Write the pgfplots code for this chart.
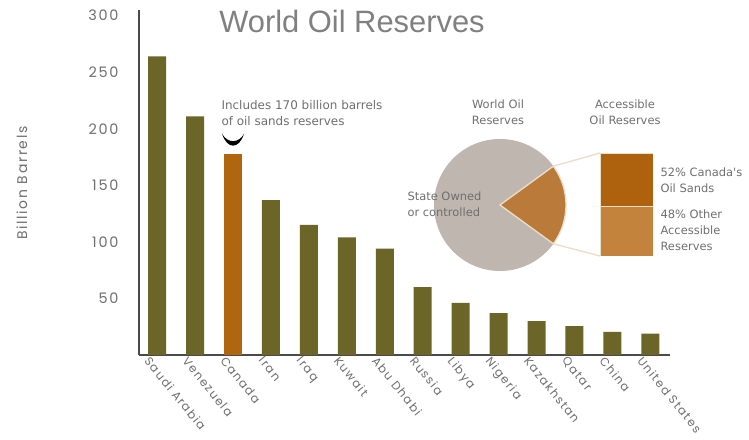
\documentclass[border=0pt]{standalone}
\usepackage{fontspec}
\usepackage{pgfplots}
\pgfplotsset{compat=1.18}
\setmainfont{Poppins}
\newfontfamily\spaced[LetterSpace=12]{Poppins}
\newfontfamily\titlefont{Liberation Sans}
\newfontfamily\notefont{DejaVu Sans}

\definecolor{barolive}{HTML}{6B6528}
\definecolor{canadaorange}{HTML}{B0650F}
\definecolor{piegrey}{HTML}{BFB6AF}
\definecolor{wedgebrown}{HTML}{B97A3A}
\definecolor{sandsdark}{HTML}{AE620E}
\definecolor{sandslight}{HTML}{C4833D}
\definecolor{guide}{HTML}{EADFCB}
\definecolor{axisgrey}{HTML}{4A4A4A}
\definecolor{labelgrey}{HTML}{6E6E6E}

% share of world reserves that is accessible (rest is state owned or controlled)
\def\accessibleshare{20}

\begin{document}
\begin{tikzpicture}[x=1bp,y=1bp]
\useasboundingbox (0,0) rectangle (749,440);

\begin{axis}[
  at={(139bp,85bp)}, anchor=south west,
  scale only axis, width=531bp, height=345bp,
  xmin=-0.48, xmax=13.52, ymin=0, ymax=305,
  axis lines*=left,
  axis line style={draw=axisgrey, line width=1.1bp},
  tick style={draw=none},
  ytick={50,100,150,200,250,300},
  xtick={0,...,13},
  xticklabels={Saudi Arabia,Venezuela,Canada,Iran,Iraq,Kuwait,Abu Dhabi,Russia,Libya,Nigeria,Kazakhstan,Qatar,China,United States},
  /pgf/number format/assume math mode=true,
  yticklabel style={font=\spaced\fontsize{14.5}{14.5}\selectfont, text=labelgrey, xshift=-17bp},
  xticklabel style={font=\spaced\fontsize{11.8}{11.8}\selectfont, text=labelgrey, rotate=-51, anchor=north west, xshift=-7bp, yshift=-2bp},
  clip=false,
]
\addplot[ybar, bar width=18bp, bar shift=0pt, fill=barolive, draw=none]
  coordinates {(0,264) (1,211) (3,137) (4,115) (5,104) (6,94) (7,60) (8,46) (9,37) (10,30) (11,25.5) (12,20.5) (13,19)};
\addplot[ybar, bar width=18bp, bar shift=0pt, fill=canadaorange, draw=none]
  coordinates {(2,178)};
\coordinate (canadatop) at (axis cs:2,178);
\end{axis}

% pointer above the Canada bar
\fill ([shift={(-11bp,20bp)}]canadatop) .. controls +(5,-16) and +(-5,-16) .. ([shift={(11bp,20bp)}]canadatop)
      .. controls +(-5,-10) and +(5,-10) .. cycle;
\node[font=\notefont\fontsize{12}{16}\selectfont, text=labelgrey, align=left, anchor=west]
  at (218,327) {Includes 170 billion barrels\\of oil sands reserves};

% title and y label
\node[font=\titlefont\fontsize{31}{34}\selectfont, text=gray] at (352,419) {World Oil Reserves};
\node[font=\spaced\fontsize{14}{14}\selectfont, text=labelgrey, rotate=90] at (22,257) {Billion Barrels};

% pie of world reserves
\fill[piegrey] (500,235) circle (66);
\filldraw[fill=wedgebrown, draw=guide, line width=1.3bp]
  (500,235) -- ({500+66*cos(1.8*\accessibleshare)},{235+66*sin(1.8*\accessibleshare)})
  arc[start angle={1.8*\accessibleshare}, end angle={-1.8*\accessibleshare}, radius=66] -- cycle;
\draw[guide, line width=1.4bp] ({500+66*cos(1.8*\accessibleshare)},{235+66*sin(1.8*\accessibleshare)}) -- (600,287);
\draw[guide, line width=1.4bp] ({500+66*cos(1.8*\accessibleshare)},{235-66*sin(1.8*\accessibleshare)}) -- (600,184);

% split of accessible reserves
\begin{axis}[
  at={(600bp,184bp)}, anchor=south west,
  scale only axis, width=53bp, height=103bp,
  xmin=-0.5, xmax=0.5, ymin=0, ymax=100,
  hide axis, ybar stacked, bar width=53bp,
]
\addplot[fill=sandslight, draw=guide, line width=0.8bp] coordinates {(0,48)};
\addplot[fill=sandsdark, draw=guide, line width=0.8bp] coordinates {(0,52)};
\end{axis}

\begin{scope}[every node/.style={font=\notefont\fontsize{11.5}{16}\selectfont, text=labelgrey}]
\node[align=center] at (498,328) {World Oil\\Reserves};
\node[align=center] at (625,328) {Accessible\\Oil Reserves};
\node[align=left, anchor=west] at (404,236) {State Owned\\or controlled};
\node[align=left, anchor=west] at (657,260) {52\% Canada's\\Oil Sands};
\node[align=left, anchor=west] at (657,210) {48\% Other\\Accessible\\Reserves};
\end{scope}
\end{tikzpicture}
\end{document}
